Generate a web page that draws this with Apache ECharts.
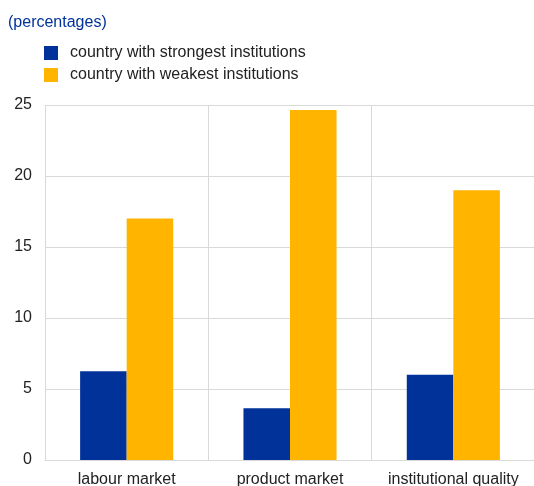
<!DOCTYPE html>
<html>
<head>
<meta charset="utf-8">
<script src="https://cdn.jsdelivr.net/npm/echarts@6/dist/echarts.min.js"></script>
<style>
  html, body { margin: 0; padding: 0; background: #fff; }
  #chart { width: 534px; height: 486px; }
</style>
</head>
<body>
<div id="chart"></div>
<script>
const categories = ['labour market', 'product market', 'institutional quality'];
const strongest = [6.25, 3.65, 6.0];
const weakest = [17.0, 24.65, 19.0];
const yTicks = [0, 5, 10, 15, 20, 25];

const chart = echarts.init(document.getElementById('chart'));
chart.setOption({
  animation: false,
  textStyle: { fontFamily: 'Liberation Sans, Arial, sans-serif' },
  title: {
    text: '(percentages)',
    left: 3,
    top: 10,
    textStyle: { color: '#003299', fontSize: 16, fontWeight: 'normal' }
  },
  legend: {
    orient: 'vertical',
    left: 39,
    top: 40,
    itemWidth: 14,
    itemHeight: 14,
    itemGap: 6,
    icon: 'rect',
    textStyle: { color: '#222', fontSize: 16, padding: [0, 0, 0, 7] },
    data: ['country with strongest institutions', 'country with weakest institutions']
  },
  grid: { left: 45, right: -1, top: 105, bottom: 26, outerBoundsMode: 'none' },
  xAxis: {
    type: 'category',
    data: categories,
    axisTick: { show: false },
    axisLine: { lineStyle: { color: '#d9d9d9' } },
    axisLabel: { color: '#222', fontSize: 16, margin: 12, interval: 0 },
    splitLine: { show: true, interval: 0, lineStyle: { color: '#d9d9d9' } }
  },
  yAxis: {
    type: 'value',
    min: yTicks[0],
    max: yTicks[yTicks.length - 1],
    interval: 5,
    axisLine: { show: false },
    axisTick: { show: false },
    axisLabel: { color: '#222', fontSize: 16, margin: 13 },
    splitLine: { lineStyle: { color: '#d9d9d9' } }
  },
  series: [
    {
      name: 'country with strongest institutions',
      type: 'bar',
      data: strongest,
      itemStyle: { color: '#003299' },
      barGap: '0%',
      barCategoryGap: '43%'
    },
    {
      name: 'country with weakest institutions',
      type: 'bar',
      data: weakest,
      itemStyle: { color: '#ffb400' },
      barGap: '0%',
      barCategoryGap: '43%'
    }
  ]
});
</script>
</body>
</html>
